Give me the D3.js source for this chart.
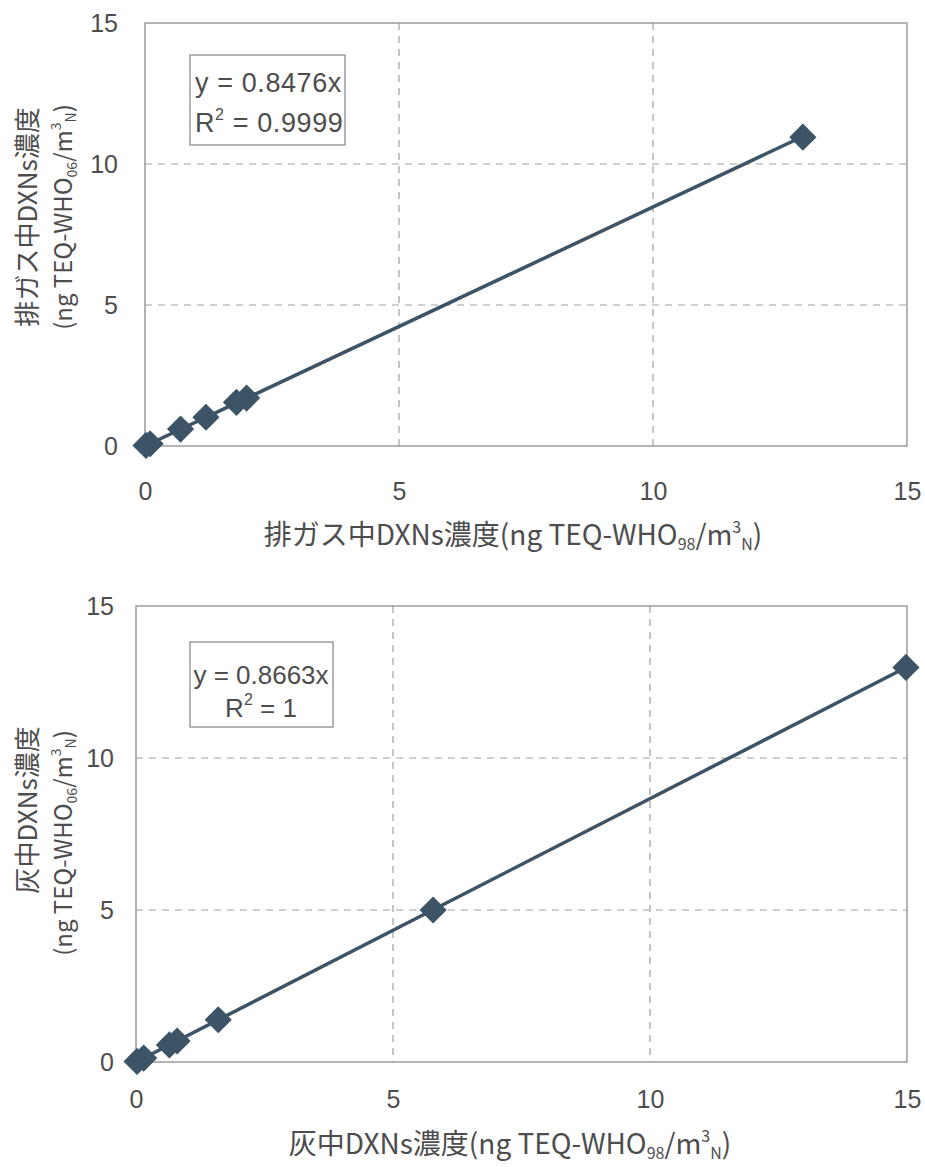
<!DOCTYPE html>
<html>
<head>
<meta charset="utf-8">
<script src="https://cdn.jsdelivr.net/npm/d3@7"></script>
<style>
  html, body { margin: 0; padding: 0; background: #fff; }
  svg { display: block; }
  text { font-family: "Noto Sans CJK JP", "Liberation Sans", sans-serif; fill: #4d4d4d; }
</style>
</head>
<body>
<svg id="chart" width="925" height="1167"></svg>
<script>
// Exhaust gas: WHO98 TEQ vs WHO06 TEQ
const gasX = [0.02, 0.1, 0.7, 1.2, 1.8, 2.0, 12.95];
const gasY = [0.02, 0.08, 0.6, 1.02, 1.55, 1.7, 10.95];
const gasSlope = 0.8476;
const gasR2 = "0.9999";

// Ash: WHO98 TEQ vs WHO06 TEQ
const ashX = [0.02, 0.15, 0.65, 0.8, 1.6, 5.78, 14.98];
const ashY = [0.02, 0.13, 0.56, 0.69, 1.39, 5.0, 12.98];
const ashSlope = 0.8663;
const ashR2 = "1";

const tickValues = [0, 5, 10, 15];
const axisDomain = [0, 15];

const svg = d3.select("#chart");
const ink = "#3d5366";
const textColor = "#4d4d4d";
const latin = "'Liberation Sans', sans-serif";

function panel(cfg) {
  const g = svg.append("g");
  const x = d3.scaleLinear().domain(axisDomain).range([cfg.left, cfg.right]);
  const y = d3.scaleLinear().domain(axisDomain).range([cfg.bottom, cfg.top]);

  // dashed grid lines at the inner ticks
  const inner = tickValues.filter(v => v > axisDomain[0] && v < axisDomain[1]);
  g.selectAll(".vg").data(inner).join("line")
    .attr("x1", d => x(d)).attr("x2", d => x(d))
    .attr("y1", cfg.top).attr("y2", cfg.bottom)
    .attr("stroke", "#a0a0a0").attr("stroke-width", 1.2).attr("stroke-dasharray", "7,6");
  g.selectAll(".hg").data(inner).join("line")
    .attr("y1", d => y(d)).attr("y2", d => y(d))
    .attr("x1", cfg.left).attr("x2", cfg.right)
    .attr("stroke", "#a0a0a0").attr("stroke-width", 1.2).attr("stroke-dasharray", "7,6");

  // plot area frame
  g.append("rect")
    .attr("x", cfg.left).attr("y", cfg.top)
    .attr("width", cfg.right - cfg.left).attr("height", cfg.bottom - cfg.top)
    .attr("fill", "none").attr("stroke", "#8c8c8c").attr("stroke-width", 1.3);

  // axes (labels only, frame draws the lines)
  const xAxis = g.append("g").attr("transform", `translate(0,${cfg.bottom})`)
    .call(d3.axisBottom(x).tickValues(tickValues).tickSize(0).tickPadding(cfg.xPad).tickFormat(d3.format("d")));
  const yAxis = g.append("g").attr("transform", `translate(${cfg.left},0)`)
    .call(d3.axisLeft(y).tickValues(tickValues).tickSize(0).tickPadding(cfg.yPad).tickFormat(d3.format("d")));
  [xAxis, yAxis].forEach(a => {
    a.select(".domain").remove();
    a.selectAll("text").attr("font-size", 25).attr("fill", textColor)
      .style("font-family", latin);
  });

  // fitted line through origin
  const xMax = d3.max(cfg.xs);
  g.append("line")
    .attr("x1", x(0)).attr("y1", y(0))
    .attr("x2", x(xMax)).attr("y2", y(cfg.slope * xMax))
    .attr("stroke", ink).attr("stroke-width", 3.5);

  // diamond markers
  const diamond = d3.symbol().type(d3.symbolSquare).size(370);
  g.selectAll(".pt").data(cfg.xs.map((v, i) => [v, cfg.ys[i]])).join("path")
    .attr("d", diamond)
    .attr("transform", d => `translate(${x(d[0])},${y(d[1])}) rotate(45)`)
    .attr("fill", ink);

  // equation box
  const b = cfg.box;
  g.append("rect").attr("x", b.x).attr("y", b.y).attr("width", b.w).attr("height", b.h)
    .attr("fill", "#fff").attr("stroke", "#8c8c8c").attr("stroke-width", 1.3);
  const eq = g.append("text").attr("x", b.tx).attr("y", b.y1)
    .attr("text-anchor", b.anchor).attr("font-size", b.fs).attr("letter-spacing", b.ls)
    .style("font-family", latin);
  eq.text(`y = ${cfg.slope}x`);
  const r = g.append("text").attr("x", b.tx).attr("y", b.y2)
    .attr("text-anchor", b.anchor).attr("font-size", b.fs).attr("letter-spacing", b.ls)
    .style("font-family", latin);
  r.append("tspan").text("R");
  r.append("tspan").attr("font-size", 16).attr("dy", -12).text("2");
  r.append("tspan").attr("dy", 12).text(` = ${cfg.r2}`);

  // x-axis title
  const xt = g.append("text").attr("x", cfg.xTitleX).attr("y", cfg.xTitleY)
    .attr("text-anchor", "middle").attr("font-size", 28);
  xt.append("tspan").text(cfg.name + "DXNs濃度(ng TEQ-WHO");
  xt.append("tspan").attr("font-size", 16).attr("dy", 5).text("98");
  xt.append("tspan").attr("dy", -5).text("/m");
  xt.append("tspan").attr("font-size", 16).attr("dy", -12).text("3");
  xt.append("tspan").attr("font-size", 16).attr("dy", 17).text("N");
  xt.append("tspan").attr("dy", -5).text(")");

  // y-axis title, two lines
  g.append("text")
    .attr("transform", `translate(${cfg.yTitleX1},${cfg.yTitleCY1}) rotate(-90)`)
    .attr("text-anchor", "middle").attr("font-size", 26).attr("dy", "0.35em")
    .text(cfg.name + "DXNs濃度");
  const yt2 = g.append("text")
    .attr("transform", `translate(${cfg.yTitleX2},${cfg.yTitleCY2}) rotate(-90)`)
    .attr("text-anchor", "middle").attr("font-size", 24).attr("dy", "0.35em");
  yt2.append("tspan").text("(ng TEQ-WHO");
  yt2.append("tspan").attr("font-size", 14).attr("dy", 5).text("06");
  yt2.append("tspan").attr("dy", -5).text("/m");
  yt2.append("tspan").attr("font-size", 14).attr("dy", -11).text("3");
  yt2.append("tspan").attr("font-size", 14).attr("dy", 15).text("N");
  yt2.append("tspan").attr("dy", -4).text(")");
}

panel({
  name: "排ガス中",
  xs: gasX, ys: gasY, slope: gasSlope, r2: gasR2,
  left: 145, right: 907, top: 23, bottom: 446,
  xPad: 36, yPad: 27,
  box: { x: 190, y: 55, w: 155, h: 90, tx: 195, y1: 92, y2: 132, anchor: "start", fs: 27, ls: 0.6 },
  xTitleX: 513, xTitleY: 545,
  yTitleX1: 28, yTitleX2: 64, yTitleCY1: 217, yTitleCY2: 217
});

panel({
  name: "灰中",
  xs: ashX, ys: ashY, slope: ashSlope, r2: ashR2,
  left: 136, right: 907, top: 606, bottom: 1062,
  xPad: 28, yPad: 22,
  box: { x: 190, y: 642, w: 143, h: 85, tx: 261, y1: 684, y2: 717, anchor: "middle", fs: 26, ls: 0 },
  xTitleX: 510, xTitleY: 1154,
  yTitleX1: 28, yTitleX2: 64, yTitleCY1: 810, yTitleCY2: 843
});
</script>
</body>
</html>
